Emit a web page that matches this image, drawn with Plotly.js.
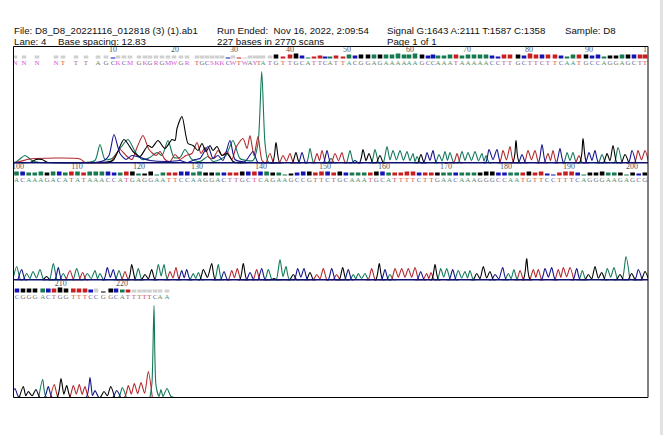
<!DOCTYPE html>
<html><head><meta charset="utf-8">
<script src="https://cdn.plot.ly/plotly-3.0.1.min.js"></script>
<style>html,body{margin:0;padding:0;background:#fff}</style></head>
<body><div id="chart" style="width:663px;height:435px"></div>
<script>
// ---------- Panel 1 (bases 1-99)
const seq1 = "NNNNTTTAGCKCMGKGRGMWGRTGCSKKCWTWAYTATGTTGCATTCATTACGGAGAAAAAAGCCAAATAAAAACCTTGCTTCTTCAATGCCAGGAGCTT";
const pos1 = [15,24,37,56,63,76,86,97,106,113,
117,122,129,139,144,149,156,161,168,174,
182,187,197,201,207,212,217,222,228,233,
239,245,250,255,258,262,270,276,283,290,
296,302,310,317,322,327,331,335,342,350,
355,363,369,375,380,387,393,400,407,413,
417,421,427,433,439,445,450,457,462,468,
475,482,486,489,497,503,510,516,522,528,
535,542,548,553,560,567,573,579,583,589,
595,602,607,613,618,625,632,638,645];
const letter1 = [15,24,37,56,63,76,86,98,106,113,
118,124,130,139,145,150,156,162,168,174,
181,187,197,202,207,212,217,222,228,233,
239,245,250,255,259,263,270,276,283,290,
296,302,308,314,320,325,330,336,343,349,
355,361,368,374,380,386,392,398,404,409,
415,422,428,433,438,444,450,456,462,468,
474,480,486,492,498,504,510,518,524,530,
536,542,548,555,561,567,573,579,586,592,
598,604,610,616,622,628,634,640,645];
const peak1 = [0,0,0,0,0,0,0,0,0,0,0,0,0,0,0,0,0,0,0,0,0,0,0,0,0,0,0,0,0,0,0,0,0,0,0,0,
10,21,8,10,11,11,15,10,13,13,5,10,11,13,3,14,10,14,8,17,13,13,12,10,7,9,11,13,9,12,11,10,12,11,
12,10,8,14,14,13,17,23,9,13,13,19,10,13,15,11,11,8,25,11,13,9,10,18,16,9,13,13,13];
const qual1 = [3,3,3,3,3,3,3,3,3,1,3,3,3,3,3,3,3,3,3,3,3,3,3,3,3,3,3,3,1,3,1,1,3,3,3,3,3,
4,2,4,5,3,1,2,3,2,2,3,2,4,3,4,4,4,4,4,4,5,4,4,5,4,3,4,3,3,4,4,3,4,4,4,4,3,2,4,4,4,3,5,4,4,4,4,3,2,
4,4,4,3,4,2,3,3,4,4,4,4,4];
const greyCount1 = 37;
const tickPos1 = [113,175,234,290,347,410,467,529,589,645];
const tickText1 = ["10","20","30","40","50","60","70","80","90","1"];
// noisy start of the read: channel outlines read directly
const startAx = [13.5,18,25,32,40,85,95,100,105,112,118,128,135,142,150,157,162,168,174,180,185,192,200,208,213,220,226,233,240,247,253,258,261.7,265,268,272];
const startAy = [0,3,8,3,1,1,3,19,4,5,12,24,12,4,6,11,8,23,6,6,14,4,2,7,2,4,8,23,5,3,3,20,92,20,2,0];
const startCx = [13.5,60,95,104,109,114,120,126,132,150,170,180,187,195,200,208,213,218,223,230,235,245,253,258,270];
const startCy = [1,1,1,3,8,29,10,4,8,3,2,3,1,4,5,17,5,8,3,23,4,2,12,1,0];
const startGx = [13.5,30,36,42,48,100,113,124,133,140,148,152,158,165,172,175,177,182,188,193,198,202,206,210,213,217,222,227,233,240];
const startGy = [1,1,4,4,1,1,3,24,12,7,18,16,23,15,24,23,35,47,20,18,13,20,12,18,13,17,8,10,2,0];
const startTx = [13.5,20,30,80,85,100,110,114,120,126,132,137,143,149,156,160,165,170,175,180,186,192,197,201,205,209,213,218,222,227,232,236,243,247,250,254,258,262,266];
const startTy = [1,2,4.5,4.5,1,0,1,6,14,8,4,16,28,14,8,12,4,2,9,4,8,10,21,10,16,6,5,13,8,12,4,16,25,15,28,8,27,3,0];

// ---------- Panel 2 (bases 100-203)
const seq2 = "ACAAAGACATATAAACCATGAGGAATTCCAAGGACTTGCTCAGAAGCCGTTCTGCAAATGCATTTTCTTGAACAAAGGGCCAATGTTCCTTTCAGGGAAGAGCG";
const pos2 = [16.7,21.7,26.7,33,40,46.7,53.3,58.3,63.3,70,76.7,82.7,87.3,95,100,107.3,113.3,119,125,131.7,
138.3,145,151.7,158.3,164,170,176,181.7,186.7,193.3,198.3,203.3,211.7,218.3,224,231.7,237.3,243.3,250,256.7,
261.7,268.3,274,280,286,293.3,297.7,304,310,316.7,323.3,331.7,336.7,342.7,348.3,353.3,358.3,365,371.7,379.3,
385,390,395,401.7,408.3,415,420.7,426.7,431,435,440.7,446.7,452.7,458.3,465,470,476.7,483.3,490,495,
502.7,508.3,514,520,526.7,533.3,538.3,545,551.7,558.3,563.3,570,576.7,582.3,588.3,595,601.7,607.3,614,620,
626,631.7,638.3,645];
const letter2 = [16.5,22.6,28.7,34.8,40.9,47,53.1,59.2,65.3,71.4,77.5,83.6,89.7,95.8,101.9,108,114.1,120.2,126.3,132.4,
138.5,144.6,150.7,156.8,162.9,169,175.1,181.2,187.3,193.4,199.5,205.6,211.7,217.8,223.9,230,236.1,242.2,248.3,254.4,
260.5,266.6,272.7,278.8,284.9,291,297.1,303.2,309.3,315.4,321.5,327.6,333.7,339.8,345.9,352,358.1,364.2,370.3,376.4,
382.5,388.6,394.7,400.8,406.9,413,419.1,425.2,431.3,437.4,443.5,449.6,455.7,461.8,467.9,474,480.1,486.2,492.3,498.4,
504.5,510.6,516.7,522.8,528.9,535,541.1,547.2,553.3,559.4,565.5,571.6,577.7,583.8,589.9,596,602.1,608.2,614.3,620.4,
626.5,632.6,638.7,644.8];
const peak2 = [14,11,7,9,11,4,17,13,7,10,12,8,7,10,7,13,11,10,9,16,
12,6,11,16,16,9,13,10,11,7,8,11,17,16,9,10,12,17,8,11,
12,11,2,21,14,6,12,12,8,6,12,12,6,13,11,6,7,7,12,17,
11,6,12,12,12,13,9,7,8,16,12,12,11,10,9,10,7,14,9,6,
13,7,11,10,22,11,11,12,13,11,13,13,12,10,6,14,8,12,13,6,
24,7,11,9];
const qual2 = [4,4,3,3,4,3,4,4,3,4,4,3,4,4,4,4,3,3,4,4,
2,2,4,1,3,3,3,4,4,3,4,3,3,3,3,3,3,4,4,4,
4,4,3,3,1,2,3,4,4,3,4,4,3,4,3,3,3,3,3,4,
4,3,3,3,4,4,3,3,3,3,3,3,3,3,3,3,3,4,4,3,
3,3,3,3,4,3,4,2,1,3,4,4,3,1,3,3,4,3,3,3,1,3,2,3];
const tickPos2 = [18,77,139,197,261,325,384,446,506,569,632];
const tickText2 = ["100","110","120","130","140","150","160","170","180","190","200"];

// ---------- Panel 3 (bases 204-229)
const seq3 = "CGGGACTGGTTTCCGGCATTTTTCAA";
const pos3 = [15,23.3,28.3,36,42.7,48.3,54.3,61,66.7,73.3,79.3,85,90,95,104,110.7,116.7,122.3,128.3,134.3,141,148.3,145,153.7,158.3,166.7];
const letter3 = [17,23,29,35,42.7,48.3,54,60,66,73.3,79,85,90.7,96,103.3,110.7,116,122.3,128,134,139.5,144.5,149.5,155,160,167];
const peak3 = [9,11,6,8,18,11,13,19,12,12,13,11,20,7,6,11,7,10,12,14,15,26,0,0,0,0];
const qual3 = [4,4,4,4,4,4,4,5,4,4,4,4,3,4,1,4,4,3,3,3,3,3,3,3,3,3];
const greyFrom3 = 19;
const tailAx = [150,152,154,156,159,161,163,167,171,175];
const tailAy = [0,15,92,12,1,8,1,9,1,0];
const tickPos3 = [60.7,122];
const tickText3 = ["210","220"];

const headers = [
  ["File: D8_D8_20221116_012818 (3) (1).ab1",13,30.5],
  ["Run Ended:  Nov 16, 2022, 2:09:54",216,30.5],
  ["Signal G:1643 A:2111 T:1587 C:1358",386,30.5],
  ["Sample: D8",564,30.5],
  ["Lane: 4",13,42],
  ["Base spacing: 12.83",57,42],
  ["227 bases in 2770 scans",216,42],
  ["Page 1 of 1",386,42]
];

const lineCol = {A:"#14785a",C:"#14148c",G:"#000000",T:"#b4282c"};
const squareCol = {A:"#16794f",C:"#1414b4",G:"#000000",T:"#c81e1e"};
const textCol = {A:"#4f9274",C:"#5a64ae",G:"#6e6e6e",T:"#c8505a"};
const mixCol = "#d455d4", greyCol = "#d0d0d0";

// peak outline vertices of one channel: foot / top / foot, joined by a valley when neighbours touch
function outline(seq,pos,peak,base,sx,sy){
  const xs=(sx||[]).slice(), ys=(sy||[]).slice();
  let prevX=null,prevH=0;
  for(let i=0;i<pos.length;i++){
    if(seq[i]!==base||!peak[i]) continue;
    if(prevX!==null&&pos[i]-prevX<=9.5){
      xs.push((prevX+pos[i])/2); ys.push(Math.min(prevH,peak[i])*0.28);
    }else{
      if(prevX!==null){xs.push(prevX+4);ys.push(0);}
      xs.push(pos[i]-4);ys.push(0);
    }
    xs.push(pos[i]);ys.push(peak[i]);
    prevX=pos[i];prevH=peak[i];
  }
  if(prevX!==null){xs.push(prevX+4);ys.push(0);}
  return {xs,ys};
}
const traces=[];
function channels(seq,pos,peak,axis,extra){
  ["A","T","G","C"].forEach(b=>{
    const e=extra[b]||[];
    const o=outline(seq,pos,peak,b,e[0],e[1]);
    traces.push({type:"scatter",mode:"lines",x:o.xs,y:o.ys,yaxis:axis,hoverinfo:"skip",
      line:{color:lineCol[b],width:1.1,shape:"spline",smoothing:0.7}});
  });
}
channels(seq1,pos1,peak1,"y",{A:[startAx,startAy],C:[startCx,startCy],G:[startGx,startGy],T:[startTx,startTy]});
channels(seq2,pos2,peak2,"y2",{});
channels(seq3,pos3,peak3,"y3",{});
traces.push({type:"scatter",mode:"lines",x:tailAx,y:tailAy,yaxis:"y3",hoverinfo:"skip",
  line:{color:lineCol.A,width:1.1,shape:"spline",smoothing:0.7}});

function header(seq,pos,qual,axis,isGrey,tickPos,tickText){
  const letters=seq.split("");
  traces.push({type:"bar",x:pos,y:qual,base:qual.map(()=>105),width:pos.map(()=>4.6),yaxis:axis,hoverinfo:"skip",
    marker:{color:letters.map((c,i)=>isGrey(i)?greyCol:(squareCol[c]||greyCol)),line:{width:0}}});
  traces.push({type:"scatter",mode:"text",x:pos,y:pos.map(()=>100.5),text:letters,yaxis:axis,hoverinfo:"skip",cliponaxis:false,
    textposition:"middle center",
    textfont:{family:"Liberation Serif",size:7,color:letters.map(c=>textCol[c]||mixCol)}});
  traces.push({type:"scatter",mode:"text",x:tickPos,y:tickPos.map(()=>113.5),text:tickText,yaxis:axis,hoverinfo:"skip",cliponaxis:false,
    textposition:"middle center",textfont:{family:"Liberation Serif",size:8,color:"#555"}});
}
header(seq1,letter1,qual1,"y",i=>i<greyCount1&&qual1[i]>1,tickPos1,tickText1);
header(seq2,letter2,qual2,"y2",i=>false,tickPos2,tickText2);
header(seq3,letter3,qual3,"y3",i=>i>=greyFrom3||i===13,tickPos3,tickText3);

const W=663,H=435;
const yAxis=(top,bottom)=>({domain:[1-bottom/H,1-top/H],range:[0,117],visible:false,fixedrange:true});
const layout={
  width:W,height:H,margin:{l:0,r:0,t:0,b:0},paper_bgcolor:"#fff",plot_bgcolor:"rgba(0,0,0,0)",showlegend:false,barmode:"overlay",
  xaxis:{domain:[13.5/W,648/W],range:[13.5,648],visible:false,fixedrange:true},
  yaxis:yAxis(46.5,163.5),
  yaxis2:yAxis(163.5,280.5),
  yaxis3:yAxis(280.5,397.5),
  shapes:[
    {type:"rect",xref:"paper",yref:"paper",x0:13.5/W,x1:648/W,y0:1-397.5/H,y1:1-46.5/H,line:{color:"#000",width:1}},
    {type:"line",xref:"x",yref:"y",x0:13.5,x1:648,y0:0,y1:0,line:{color:"#101070",width:3}},
    {type:"line",xref:"x",yref:"y2",x0:13.5,x1:648,y0:0,y1:0,line:{color:"#101070",width:3}},
    {type:"rect",xref:"paper",yref:"paper",x0:660/W,x1:1,y0:0,y1:1,line:{width:0},fillcolor:"#e2e2e2"}
  ],
  annotations:headers.map(h=>({text:h[0],xref:"paper",yref:"paper",x:h[1]/W,y:1-h[2]/H,xanchor:"left",yanchor:"middle",
    showarrow:false,borderpad:0,font:{family:"Liberation Sans",size:9.7,color:"#111"}}))
};
Plotly.newPlot("chart",traces,layout,{displayModeBar:false,staticPlot:true});
</script></body></html>
